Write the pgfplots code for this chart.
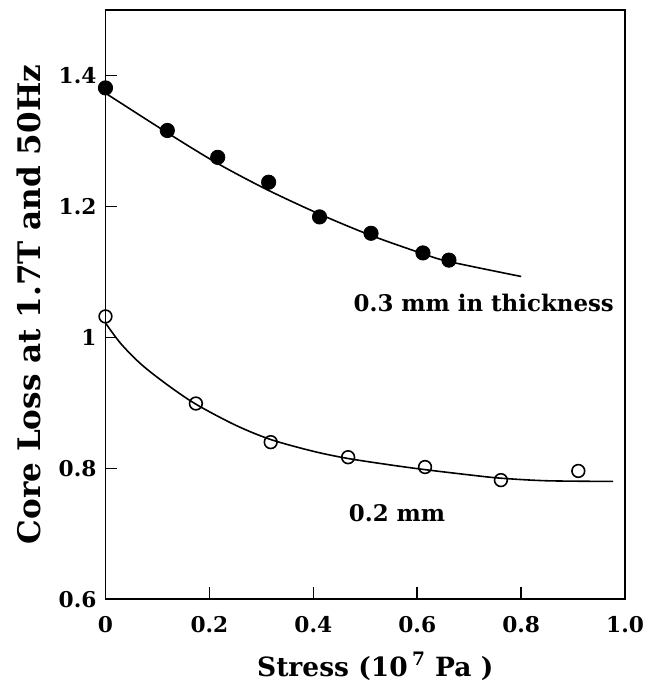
\documentclass[border=0pt]{standalone}
\usepackage{fontspec}
\setmainfont{DejaVu Serif}
\usepackage{pgfplots}
\pgfplotsset{compat=1.18}
\newcommand{\tlbl}{\fontsize{10.9}{13}\selectfont\bfseries}
\newcommand{\lbl}{\fontsize{11.5}{14}\selectfont\bfseries}
\begin{document}
\begin{tikzpicture}
\begin{axis}[
    scale only axis,
    width=261pt, height=296pt,
    xmin=0, xmax=1.0, ymin=0.6, ymax=1.5,
    xtick={0,0.2,0.4,0.6,0.8,1.0},
    xticklabels={0,0.2,0.4,0.6,0.8,1.0},
    ytick={0.6,0.8,1,1.2,1.4},
    yticklabels={0.6,0.8,1,1.2,1.4},
    xtick pos=bottom, ytick pos=left,
    tick align=inside,
    major tick length=6pt,
    axis line style={line width=0.9pt},
    tick style={line width=0.8pt, black},
    ticklabel style={font=\tlbl},
    xticklabel style={yshift=-5pt},
    yticklabel style={xshift=-1pt},
    xlabel={Stress (10\,\textsuperscript{7} Pa\ )},
    ylabel={Core Loss at 1.7T and 50Hz},
    xlabel style={font=\fontsize{13.3}{16}\selectfont\bfseries, yshift=-3pt, xshift=5pt},
    ylabel style={font=\fontsize{15.6}{19}\selectfont\bfseries, yshift=2pt},
    clip=false,
]
% 0.3 mm fitted curve
\addplot[black, line width=0.8pt, smooth] coordinates {
    (0,1.373) (0.12,1.312) (0.215,1.266) (0.31,1.226) (0.41,1.189)
    (0.51,1.156) (0.61,1.128) (0.66,1.116) (0.8,1.093)
};
\addplot[only marks, mark=*, mark size=3.6pt, black] coordinates {
    (0,1.381) (0.119,1.316) (0.216,1.275) (0.314,1.237)
    (0.412,1.184) (0.511,1.159) (0.611,1.129) (0.661,1.118)
};
% 0.2 mm fitted curve
\addplot[black, line width=0.8pt, smooth] coordinates {
    (0,1.022) (0.03,0.990) (0.07,0.958) (0.12,0.927) (0.174,0.898)
    (0.25,0.866) (0.318,0.844) (0.4,0.826) (0.467,0.815) (0.55,0.805)
    (0.615,0.798) (0.7,0.790) (0.76,0.785) (0.85,0.781) (0.977,0.780)
};
\addplot[only marks, mark=o, mark size=3.2pt, line width=0.8pt, black, mark options={fill=white}] coordinates {
    (0,1.032) (0.174,0.899) (0.318,0.840) (0.467,0.817)
    (0.615,0.802) (0.761,0.782) (0.910,0.796)
};
\node[font=\lbl] at (axis cs:0.728,1.052) {0.3 mm in thickness};
\node[font=\lbl] at (axis cs:0.561,0.732) {0.2 mm};
\path (rel axis cs:-0.203,-0.1436) rectangle (rel axis cs:1.046,1.017);
\end{axis}
\end{tikzpicture}
\end{document}
